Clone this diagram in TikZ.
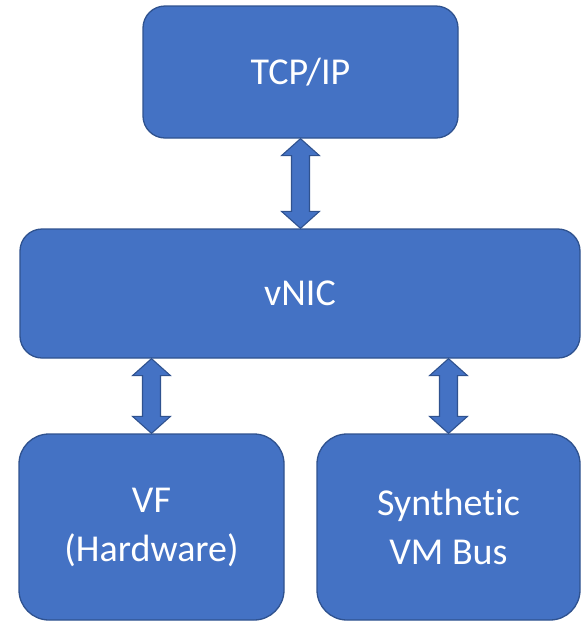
\documentclass[tikz,border=0pt]{standalone}
\usepackage{fontspec}
\setmainfont{Carlito}[Ligatures=NoCommon]
\usepackage{tikz}
\usetikzlibrary{calc, positioning}
\definecolor{boxblue}{RGB}{68,114,196}
\definecolor{edgeblue}{RGB}{47,82,143}

\begin{document}
\begin{tikzpicture}[
    x=1pt, y=-1pt,
    every node/.style={font=\fontsize{38}{49}\selectfont},
    layer/.style={rectangle, draw=edgeblue, line width=1.3pt, fill=boxblue, text=white, align=center, inner sep=0pt},
    blockarrow/.style={draw=edgeblue, line width=1.1pt, fill=boxblue, line join=miter,
        to path={let \p1=(\tikztostart), \p2=(\tikztotarget) in
            -- (\x1-19pt,\y1-17pt) -- (\x1-9pt,\y1-17pt) -- (\x1-9pt,\y2+17pt) -- (\x1-19pt,\y2+17pt)
            -- (\x2,\y2)
            -- (\x1+19pt,\y2+17pt) -- (\x1+9pt,\y2+17pt) -- (\x1+9pt,\y1-17pt) -- (\x1+19pt,\y1-17pt)
            -- cycle}}
]
\useasboundingbox (0,0) rectangle (584,622);

\node[layer, rounded corners=22pt, minimum width=315pt, minimum height=132pt] (tcp) at (300.5,72) {TCP/IP};
\node[layer, rounded corners=22pt, minimum width=560pt, minimum height=129pt] (vnic) at (300,293.5) {vNIC};
\node[layer, rounded corners=30pt, minimum width=265pt, minimum height=186pt] (vf) at (151.5,527) {VF\\(Hardware)};
\node[layer, rounded corners=30pt, minimum width=263pt, minimum height=186pt] (synth) at (448.5,527) {Synthetic\\VM Bus};

\draw[blockarrow] (tcp.south) to (vnic.north -| tcp.south);
\draw[blockarrow] (vnic.south -| vf.north) to (vf.north);
\draw[blockarrow] (vnic.south -| synth.north) to (synth.north);

\end{tikzpicture}
\end{document}
